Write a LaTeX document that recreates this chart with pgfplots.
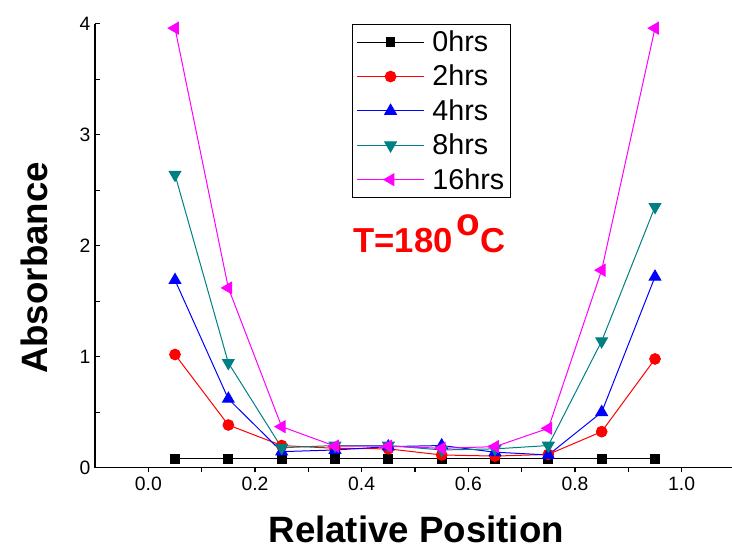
\documentclass[border=0pt]{standalone}
\usepackage{fontspec}
\setmainfont{Liberation Sans}
\usepackage{pgfplots}
\pgfplotsset{compat=1.18}
\definecolor{tealc}{RGB}{0,128,128}
\definecolor{magc}{RGB}{255,0,255}

\begin{document}
\begin{tikzpicture}
\useasboundingbox (-71.25pt,-64pt) rectangle (477.75pt,350.8pt);
\begin{axis}[
    at={(0,0)}, anchor=south west,
    scale only axis,
    width=480pt, height=333pt,
    xmin=-0.1, xmax=1.1, ymin=0, ymax=4,
    axis x line*=bottom, axis y line*=left,
    axis line style={-, line width=1.1pt},
    xtick={0,0.2,...,1.0}, ytick={0,1,2,3,4},
    minor x tick num=1, minor y tick num=1,
    xtick align=outside, ytick align=inside,
    major tick length=3.5pt, minor tick length=3.5pt,
    every tick/.style={black, line width=0.8pt},
    xticklabel style={/pgf/number format/.cd, fixed, fixed zerofill, precision=1, assume math mode=true},
    yticklabel style={/pgf/number format/assume math mode=true},
    tick label style={font=\fontsize{14.5}{17}\selectfont},
    xlabel={\textbf{Relative Position}},
    ylabel={\textbf{Absorbance}},
    label style={font=\fontsize{27.5}{32}\selectfont},
    xlabel style={at={(axis description cs:0.502,-0.14)}, anchor=center},
    ylabel style={at={(axis description cs:-0.0945,0.45)}, anchor=center},
    legend style={at={(axis description cs:0.402,1)}, anchor=north west,
        font=\fontsize{21.5}{25}\selectfont, draw=black, line width=0.6pt,
        row sep=4.7pt, column sep=4pt, inner xsep=3pt, inner ysep=3pt},
    legend cell align=left,
    legend image code/.code={
        \draw[mark repeat=2, mark phase=2] plot coordinates {(0cm,0cm) (0.88cm,0cm) (1.76cm,0cm)};
    },
    every axis plot/.append style={line width=0.75pt},
    clip=false,
]
\addplot[black, mark=square*, mark size=3.3pt] coordinates {
(0.05,0.08) (0.15,0.08) (0.25,0.08) (0.35,0.08) (0.45,0.08) (0.55,0.08) (0.65,0.08) (0.75,0.08) (0.85,0.08) (0.95,0.08)};
\addplot[red, mark=*, mark size=4pt] coordinates {
(0.05,1.02) (0.15,0.385) (0.25,0.20) (0.35,0.175) (0.45,0.17) (0.55,0.115) (0.65,0.105) (0.75,0.12) (0.85,0.325) (0.95,0.98)};
\addplot[blue, mark=triangle*, mark size=5pt] coordinates {
(0.05,1.69) (0.15,0.62) (0.25,0.145) (0.35,0.16) (0.45,0.19) (0.55,0.20) (0.65,0.14) (0.75,0.115) (0.85,0.50) (0.95,1.72)};
\addplot[tealc, mark=triangle*, mark size=5pt, mark options={rotate=180}] coordinates {
(0.05,2.64) (0.15,0.945) (0.25,0.18) (0.35,0.20) (0.45,0.20) (0.55,0.16) (0.65,0.17) (0.75,0.20) (0.85,1.14) (0.95,2.35)};
\addplot[magc, mark=triangle*, mark size=5pt, mark options={rotate=90}] coordinates {
(0.05,3.96) (0.15,1.62) (0.25,0.37) (0.35,0.195) (0.45,0.195) (0.55,0.175) (0.65,0.19) (0.75,0.355) (0.85,1.78) (0.95,3.96)};
\legend{0hrs, 2hrs, 4hrs, 8hrs, 16hrs}
\node[anchor=base west, red, inner sep=0pt, font=\fontsize{26}{30}\selectfont\bfseries]
  at (axis cs:0.384,1.936) {T=180\hspace{0.12em}\raisebox{0.5em}{\fontsize{29}{32}\selectfont o}C};
\end{axis}
\end{tikzpicture}
\end{document}
